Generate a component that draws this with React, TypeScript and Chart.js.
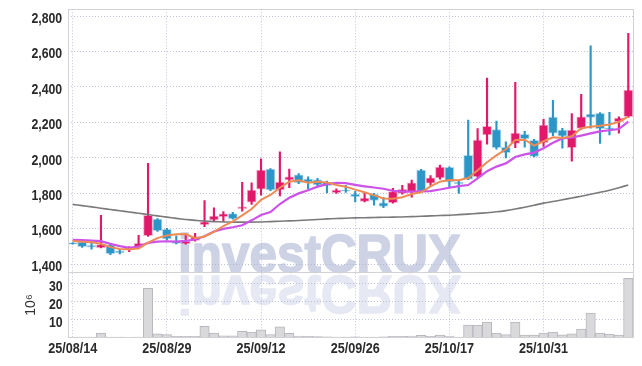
import React, { useEffect, useRef } from 'react';
import { Chart, registerables } from 'chart.js';

Chart.register(...registerables);

// ---------- data ----------
const dates = [
  '25/08/14', '25/08/18', '25/08/19', '25/08/20', '25/08/21', '25/08/22', '25/08/25', '25/08/26', '25/08/27', '25/08/28',
  '25/08/29', '25/09/01', '25/09/02', '25/09/03', '25/09/04', '25/09/05', '25/09/08', '25/09/09', '25/09/10', '25/09/11',
  '25/09/12', '25/09/15', '25/09/16', '25/09/17', '25/09/18', '25/09/19', '25/09/22', '25/09/23', '25/09/24', '25/09/25',
  '25/09/26', '25/09/29', '25/09/30', '25/10/01', '25/10/02', '25/10/10', '25/10/13', '25/10/14', '25/10/15', '25/10/16',
  '25/10/17', '25/10/20', '25/10/21', '25/10/22', '25/10/23', '25/10/24', '25/10/27', '25/10/28', '25/10/29', '25/10/30',
  '25/10/31', '25/11/03', '25/11/04', '25/11/05', '25/11/06', '25/11/07', '25/11/10', '25/11/11', '25/11/12', '25/11/13',
];

const shownDates = ['25/08/14', '25/08/29', '25/09/12', '25/09/26', '25/10/17', '25/10/31'];

const opens = [
  1520, 1527, 1507, 1494, 1509, 1476, 1486, 1498, 1562, 1655,
  1597, 1530, 1516, 1535, 1623, 1651, 1668, 1686, 1714, 1751,
  1824, 1937, 1819, 1876, 1905, 1880, 1876, 1862, 1804, 1818,
  1796, 1755, 1794, 1747, 1747, 1800, 1810, 1932, 1858, 1887,
  1947, 1862, 2015, 1894, 2130, 2160, 2060, 2082, 2133, 2099,
  2086, 2230, 2157, 2058, 2167, 2247, 2252, 2170, 2204, 2232,
];
const highs = [
  1523, 1530, 1525, 1676, 1515, 1485, 1500, 1563, 1970, 1658,
  1603, 1560, 1572, 1575, 1760, 1718, 1698, 1693, 1862, 1860,
  1995, 1940, 2035, 1937, 1912, 1893, 1885, 1870, 1825, 1845,
  1812, 1800, 1800, 1778, 1828, 1845, 1875, 1935, 1900, 1960,
  1950, 1868, 2214, 2165, 2450, 2208, 2090, 2426, 2150, 2105,
  2217, 2325, 2167, 2250, 2358, 2632, 2255, 2257, 2232, 2702,
];
const lows = [
  1514, 1495, 1485, 1492, 1455, 1458, 1472, 1495, 1558, 1586,
  1538, 1515, 1513, 1530, 1612, 1640, 1642, 1655, 1700, 1738,
  1790, 1815, 1785, 1832, 1855, 1825, 1835, 1803, 1800, 1805,
  1752, 1752, 1733, 1720, 1745, 1795, 1778, 1808, 1845, 1880,
  1838, 1800, 1878, 1890, 2078, 2050, 2000, 2058, 2060, 2005,
  2065, 2125, 2055, 1982, 2160, 2168, 2082, 2130, 2140, 2228,
];
const closes = [
  1516, 1500, 1497, 1511, 1460, 1465, 1490, 1518, 1676, 1590,
  1543, 1518, 1530, 1553, 1640, 1672, 1685, 1658, 1724, 1819,
  1932, 1820, 1864, 1893, 1860, 1864, 1848, 1844, 1819, 1814,
  1781, 1773, 1760, 1726, 1810, 1823, 1860, 1812, 1888, 1949,
  1865, 1855, 1880, 2100, 2178, 2058, 2030, 2140, 2108, 2008,
  2185, 2140, 2122, 2157, 2231, 2228, 2165, 2165, 2225, 2383,
];
// volume in millions of shares
const volumes = [
  0.3, 0.3, 0.4, 2.6, 0.3, 0.3, 0.2, 0.4, 27.6, 2.2,
  1.7, 0.8, 0.7, 0.8, 6.3, 2.6, 1.0, 1.0, 3.6, 3.1,
  4.4, 1.8, 6.0, 2.4, 0.9, 0.7, 0.6, 0.5, 0.4, 0.4,
  0.5, 0.4, 0.4, 0.5, 0.7, 0.8, 0.9, 1.3, 0.7, 1.5,
  0.9, 0.3, 7.0, 7.0, 8.7, 2.6, 1.7, 8.7, 1.5, 1.5,
  2.6, 3.1, 1.6, 2.1, 4.8, 13.7, 2.6, 2.0, 1.5, 33.1,
];
const ma5 = [
  1531, 1527, 1524, 1516, 1497, 1487, 1485, 1489, 1522, 1548,
  1563, 1569, 1571, 1547, 1557, 1583, 1616, 1642, 1676, 1712,
  1764, 1791, 1832, 1866, 1874, 1860, 1866, 1862, 1847, 1838,
  1821, 1806, 1789, 1771, 1770, 1778, 1796, 1806, 1839, 1866,
  1875, 1874, 1887, 1930, 1976, 2014, 2049, 2101, 2103, 2069,
  2094, 2116, 2113, 2122, 2167, 2176, 2181, 2189, 2203, 2233,
];
const ma20 = [
  1538, 1536, 1534, 1531, 1515, 1503, 1493, 1500, 1521, 1528,
  1530, 1528, 1532, 1540, 1558, 1585, 1600, 1609, 1620, 1648,
  1678, 1695, 1740, 1775, 1800, 1818, 1838, 1852, 1860, 1858,
  1848, 1840, 1833, 1826, 1815, 1810, 1810, 1811, 1813, 1822,
  1832, 1841, 1847, 1885, 1925, 1951, 1969, 2005, 2020, 2030,
  2055, 2085, 2110, 2115, 2126, 2138, 2150, 2156, 2163, 2204,
];
const ma120 = [
  1738, 1731, 1724, 1716, 1709, 1702, 1695, 1688, 1681, 1673,
  1666, 1659, 1653, 1648, 1644, 1641, 1639, 1638, 1638, 1638,
  1639, 1641, 1643, 1645, 1647, 1650, 1653, 1656, 1658, 1660,
  1662, 1663, 1664, 1665, 1666, 1667, 1669, 1671, 1673, 1675,
  1677, 1680, 1683, 1687, 1691, 1696, 1703, 1712, 1722, 1733,
  1745, 1754, 1764, 1774, 1784, 1795, 1806, 1818, 1832, 1847,
];
const volumeTicks = [10, 20, 30];

// ---------- style ----------
const UP = '#e1196a';
const DOWN = '#2c96c7';
const UP_HALO = 'rgba(225,25,106,0.35)';
const DOWN_HALO = 'rgba(44,150,199,0.35)';
const GRID = 'rgba(170,176,205,0.75)';
const FRAME = '#d2d2d6';
const LABEL_COLOR = '#2a2a2a';
const LABEL_FONT = 'bold 15px "Liberation Sans", Arial, sans-serif';
const XLABEL_FONT = 'bold 14px "Liberation Sans", Arial, sans-serif';
const WATERMARK = 'investCRUX';

const isUp = (i: number) => closes[i] >= opens[i];

// draws narrow (horizontally condensed) text, since no narrow font is installed
function narrowText(ctx: CanvasRenderingContext2D, text: string, x: number, y: number, sx: number, align: CanvasTextAlign) {
  ctx.save();
  ctx.translate(x, y);
  ctx.scale(sx, 1);
  ctx.textAlign = align;
  ctx.textBaseline = 'alphabetic';
  ctx.fillText(text, 0, 0);
  ctx.restore();
}

const decorPlugin = {
  id: 'decor',
  beforeDraw(chart: any) {
    const ctx = chart.ctx as CanvasRenderingContext2D;
    const price = chart.scales.y;
    const baseY = price.bottom;
    ctx.save();
    ctx.font = 'bold 54px "Liberation Sans", Arial, sans-serif';
    const w = ctx.measureText(WATERMARK).width;
    const sx = 283 / w;
    ctx.textBaseline = 'alphabetic';
    ctx.textAlign = 'left';
    ctx.lineJoin = 'round';
    // main
    ctx.save();
    ctx.translate(178, baseY);
    ctx.scale(sx, 1);
    ctx.fillStyle = 'rgb(205,211,229)';
    ctx.strokeStyle = 'rgb(205,211,229)';
    ctx.lineWidth = 1.6;
    ctx.fillText(WATERMARK, 0, 0);
    ctx.strokeText(WATERMARK, 0, 0);
    ctx.restore();
    // reflection
    ctx.save();
    ctx.translate(178, baseY + 3.5);
    ctx.scale(sx, -1);
    ctx.fillStyle = 'rgb(230,232,243)';
    ctx.strokeStyle = 'rgb(230,232,243)';
    ctx.lineWidth = 1.6;
    ctx.fillText(WATERMARK, 0, 0);
    ctx.strokeText(WATERMARK, 0, 0);
    ctx.restore();
    ctx.restore();
  },
  afterDraw(chart: any) {
    const ctx = chart.ctx as CanvasRenderingContext2D;
    const { left, right, top, bottom } = chart.chartArea;
    const price = chart.scales.y;
    const vol = chart.scales.vol;
    const x = chart.scales.x;
    const mid = price.bottom;
    ctx.save();
    ctx.strokeStyle = FRAME;
    ctx.lineWidth = 1;
    ctx.strokeRect(Math.round(left) + 0.5, Math.round(top) + 0.5, Math.round(right - left), Math.round(bottom - top));
    ctx.beginPath();
    ctx.moveTo(left, Math.round(mid) + 0.5);
    ctx.lineTo(right, Math.round(mid) + 0.5);
    ctx.stroke();

    // tick labels
    ctx.fillStyle = LABEL_COLOR;
    ctx.font = LABEL_FONT;
    price.ticks.forEach((t: any) => {
      const py = price.getPixelForValue(t.value);
      narrowText(ctx, Number(t.value).toLocaleString('en-US'), left - 5.8, py + 6.6, 0.82, 'right');
    });
    vol.ticks.forEach((t: any) => {
      if (!volumeTicks.includes(t.value)) return;
      const py = vol.getPixelForValue(t.value);
      narrowText(ctx, String(t.value), left - 5.3, py + 7, 0.82, 'right');
    });
    ctx.font = XLABEL_FONT;
    x.ticks.forEach((_t: any, i: number) => {
      if (!shownDates.includes(dates[i])) return;
      const px = x.getPixelForTick(i);
      narrowText(ctx, dates[i], px, x.top + 15.6, 0.9, 'center');
    });
    ctx.restore();
  },
};

export default function App() {
  const ref = useRef<HTMLCanvasElement>(null);

  useEffect(() => {
    const canvas = ref.current;
    if (!canvas) return;
    const bodies = opens.map((o, i) => [o, closes[i]]);
    const wicks = lows.map((l, i) => [l, highs[i]]);
    const colors = opens.map((_, i) => (isUp(i) ? UP : DOWN));
    const halos = opens.map((_, i) => (isUp(i) ? UP_HALO : DOWN_HALO));

    const chart = new Chart(canvas, {
      type: 'bar',
      data: {
        labels: dates,
        datasets: [
          {
            type: 'line', label: 'MA5', data: ma5, yAxisID: 'y', order: 0,
            borderColor: '#ee8b54', borderWidth: 2, pointRadius: 0, tension: 0,
          } as any,
          {
            type: 'line', label: 'MA20', data: ma20, yAxisID: 'y', order: 0,
            borderColor: '#cc52e8', borderWidth: 2.2, pointRadius: 0, tension: 0,
          } as any,
          {
            type: 'line', label: 'MA120', data: ma120, yAxisID: 'y', order: 0,
            borderColor: '#7a7a7a', borderWidth: 1.6, pointRadius: 0, tension: 0.3,
          } as any,
          {
            type: 'bar', label: 'body', data: bodies, yAxisID: 'y', order: 1,
            backgroundColor: colors, borderColor: halos, borderWidth: 1, borderSkipped: false,
            barThickness: 9, grouped: false,
          } as any,
          {
            type: 'bar', label: 'wick', data: wicks, yAxisID: 'y', order: 2,
            backgroundColor: colors, barThickness: 1.5, grouped: false,
          } as any,
          {
            type: 'bar', label: 'volume', data: volumes, yAxisID: 'vol', order: 3,
            backgroundColor: '#d9d9dc', borderColor: '#b7b7bd', borderWidth: 1,
            categoryPercentage: 1, barPercentage: 1, grouped: false,
          } as any,
        ],
      },
      options: {
        responsive: false,
        animation: false,
        devicePixelRatio: 1,
        layout: { padding: { left: 0, right: 9, top: 9.3, bottom: 0 } },
        plugins: { legend: { display: false }, tooltip: { enabled: false } },
        scales: {
          x: {
            type: 'category',
            offset: true,
            grid: {
              offset: false,
              drawTicks: false,
              color: (c: any) => (shownDates.includes(dates[c.index]) ? GRID : 'rgba(0,0,0,0)'),
            },
            border: { display: false, dash: [1, 2] },
            ticks: { display: false, autoSkip: false },
            afterFit: (s: any) => { s.height = 28.3; },
          },
          vol: {
            type: 'linear',
            position: 'left',
            stack: 'panels',
            stackWeight: 65.4,
            min: 0,
            max: 36.5,
            grid: {
              drawTicks: false,
              color: (c: any) => (c.tick && volumeTicks.includes(c.tick.value) ? GRID : 'rgba(0,0,0,0)'),
            },
            border: { display: false, dash: [1, 2] },
            ticks: { display: false, autoSkip: false, stepSize: 10, includeBounds: false },
            title: {
              display: true,
              text: '10\u2076',
              color: '#333',
              font: { family: '"Liberation Sans", Arial, sans-serif', size: 14 },
              padding: { top: 23, bottom: 0 },
            },
            afterFit: (s: any) => { s.width = 68; },
          },
          y: {
            type: 'linear',
            position: 'left',
            stack: 'panels',
            stackWeight: 263,
            min: 1355,
            max: 2838,
            grid: { drawTicks: false, color: GRID },
            border: { display: false, dash: [1, 2] },
            ticks: { display: false, autoSkip: false, stepSize: 200, includeBounds: false },
            afterFit: (s: any) => { s.width = 68; },
          },
        },
      } as any,
      plugins: [decorPlugin],
    });
    return () => chart.destroy();
  }, []);

  return (
    <div style={{ position: 'fixed', left: 0, top: 0, width: 642, height: 366, background: '#fff' }}>
      <canvas ref={ref} width={642} height={366} style={{ display: 'block', width: 642, height: 366 }} />
    </div>
  );
}
